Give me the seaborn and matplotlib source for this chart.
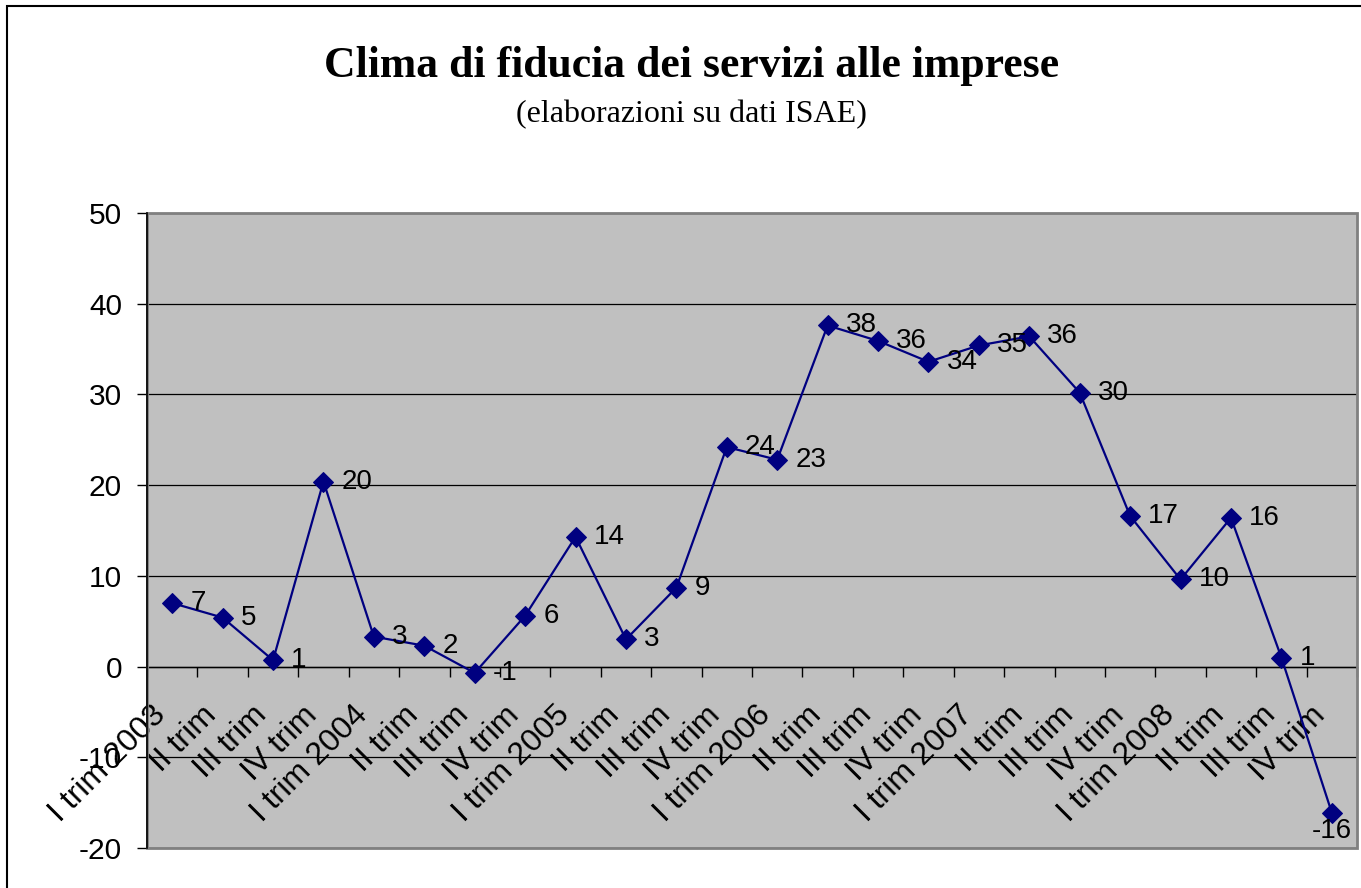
import matplotlib
matplotlib.use("Agg")
import matplotlib.pyplot as plt
from matplotlib.patches import Rectangle
import numpy as np
import seaborn as sns

TITLE = "Clima di fiducia dei servizi alle imprese"
SUBTITLE = "(elaborazioni su dati ISAE)"

QUARTERS = [
    "I trim 2003", "II trim", "III trim", "IV trim",
    "I trim 2004", "II trim", "III trim", "IV trim",
    "I trim 2005", "II trim", "III trim", "IV trim",
    "I trim 2006", "II trim", "III trim", "IV trim",
    "I trim 2007", "II trim", "III trim", "IV trim",
    "I trim 2008", "II trim", "III trim", "IV trim",
]
CLIMATE = [
    7.0, 5.4, 0.7, 20.4, 3.3, 2.3, -0.7, 5.6, 14.3, 3.0, 8.7, 24.2,
    22.8, 37.6, 35.9, 33.6, 35.4, 36.4, 30.2, 16.6, 9.6, 16.4, 1.0, -16.1,
]
Y_TICKS = [-20, -10, 0, 10, 20, 30, 40, 50]

NAVY = "#000080"
PLOT_BG = "#C0C0C0"

sns.set_theme(style="white")
plt.rcParams["font.family"] = ["Liberation Sans", "DejaVu Sans"]
plt.rcParams["axes.unicode_minus"] = False
plt.rcParams["text.color"] = "black"
plt.rcParams["xtick.color"] = "black"
plt.rcParams["ytick.color"] = "black"
plt.rcParams["xtick.labelcolor"] = "black"
plt.rcParams["ytick.labelcolor"] = "black"

fig = plt.figure(figsize=(13.61, 8.88), dpi=100)
ax = fig.add_axes([147 / 1361, 1 - 848 / 888, (1357 - 147) / 1361, (848 - 213) / 888])
ax.set_facecolor(PLOT_BG)

positions = np.arange(len(QUARTERS))
sns.lineplot(x=positions, y=CLIMATE, ax=ax, color=NAVY, linewidth=1.6,
             marker="D", markersize=10, markeredgecolor=NAVY, zorder=4)

for i, v in enumerate(CLIMATE):
    if i == len(CLIMATE) - 1:
        ax.annotate(f"{v:.0f}", (i, v), xytext=(0, -4), textcoords="offset points",
                    ha="center", va="top", fontsize=20, zorder=5)
    else:
        ax.annotate(f"{v:.0f}", (i, v), xytext=(13, 0), textcoords="offset points",
                    ha="left", va="center", fontsize=20, zorder=5)

# x axis crosses at zero, like the Excel original (this resets ticks, so do it first)
for side in ["top", "right"]:
    ax.spines[side].set_visible(False)
ax.spines["bottom"].set_position(("data", 0))
ax.spines["bottom"].set_color("black")
ax.spines["bottom"].set_linewidth(1)
ax.spines["left"].set_color("black")
ax.spines["left"].set_linewidth(1.2)
ax.spines["left"].set_zorder(6)

ax.set_xlim(-0.5, len(QUARTERS) - 0.5)
ax.set_ylim(min(Y_TICKS), max(Y_TICKS))
ax.set_yticks(Y_TICKS)
ax.yaxis.grid(True, color="black", linewidth=0.9)
ax.xaxis.grid(False)
ax.set_axisbelow(True)

ax.set_xticks(np.arange(-0.5, len(QUARTERS), 1), minor=True)
ax.tick_params(axis="x", which="major", length=0, pad=24, labelsize=23)
ax.tick_params(axis="x", which="minor", bottom=True, length=7, width=1,
               color="black", direction="out")
ax.tick_params(axis="y", which="major", left=True, length=7, width=1,
               color="black", direction="out", pad=11, labelsize=21.5)
ax.set_xticks(positions)
ax.set_xticklabels(QUARTERS, rotation=45, ha="right", va="top")

ax.add_patch(Rectangle((0, 0), 1, 1, transform=ax.transAxes, fill=False,
                       edgecolor="#808080", linewidth=2, zorder=3, clip_on=False))
ax.set_xlabel("")
ax.set_ylabel("")

fig.text(0.508, 1 - 77 / 888, TITLE, ha="center", va="baseline",
         family="Liberation Serif", weight="bold", fontsize=31.5)
fig.text(0.508, 1 - 122 / 888, SUBTITLE, ha="center", va="baseline",
         family="Liberation Serif", fontsize=23)

fig.add_artist(Rectangle((7 / 1361, -0.1), 1.2, 1.1 - 6 / 888, transform=fig.transFigure,
                         fill=False, edgecolor="black", linewidth=1.5))

fig.savefig("out.png", dpi=100)
